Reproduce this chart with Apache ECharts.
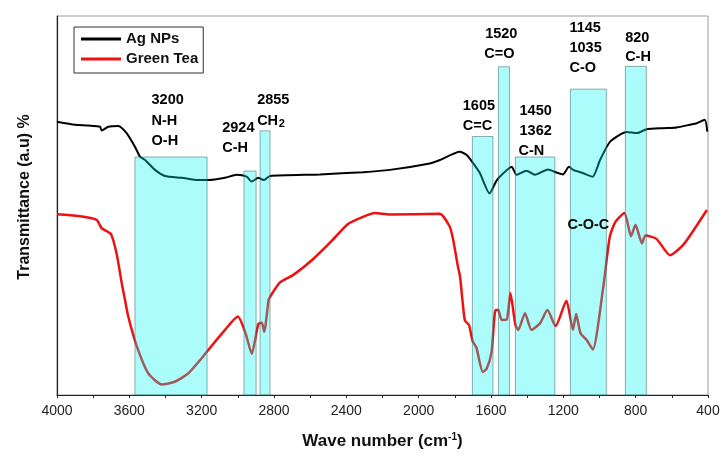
<!DOCTYPE html>
<html>
<head>
<meta charset="utf-8">
<script src="https://cdn.jsdelivr.net/npm/echarts@6/dist/echarts.min.js"></script>
<style>html,body{margin:0;padding:0;background:#fff}#c{width:726px;height:459px}</style>
</head>
<body>
<div id="c"></div>
<script>
// Wave number (cm-1) and transmittance (a.u.)
var agNPs = [
[4000,72.1],[3900,71.3],[3827,71.1],[3762,70.8],[3753,69.8],[3716,70.8],[3661,71.0],[3615,69.1],
[3569,65.5],[3541,62.9],[3513,62.0],[3458,59.4],[3403,57.8],[3310,57.3],[3219,56.7],[3163,56.7],
[3071,57.3],[3006,58.1],[2951,57.6],[2923,56.3],[2887,57.3],[2855,56.7],[2822,57.8],[2546,58.2],
[2308,58.8],[2159,59.4],[1939,61.1],[1882,62.0],[1773,64.2],[1734,63.3],[1698,61.1],[1661,58.5],
[1608,53.2],[1570,56.5],[1532,58.5],[1486,60.2],[1459,58.1],[1404,59.2],[1357,58.1],[1285,59.5],
[1238,58.7],[1202,58.2],[1169,60.2],[1145,59.4],[1090,58.5],[1038,57.6],[997,62.0],[942,66.8],
[850,69.4],[794,69.1],[739,70.1],[649,70.4],[573,70.6],[501,71.3],[462,71.7],[418,72.6],[404,69.5]
];
var greenTea = [
[4000,47.7],[3882,47.2],[3781,46.2],[3753,44.0],[3701,42.4],[3670,37.2],[3642,29.5],[3624,25.1],
[3606,20.7],[3559,12.9],[3495,5.7],[3421,2.8],[3348,3.5],[3274,5.7],[3200,9.7],[3172,11.4],
[3071,17.2],[3000,20.7],[2958,16.4],[2923,10.9],[2887,18.7],[2868,19.1],[2854,16.7],[2830,25.1],
[2822,25.9],[2767,29.7],[2693,31.7],[2583,35.9],[2482,40.6],[2391,45.1],[2308,47.0],[2242,48.0],
[2159,47.6],[1884,47.8],[1828,44.4],[1809,40.9],[1783,33.9],[1771,31.2],[1745,19.7],[1722,18.5],
[1702,14.3],[1680,12.4],[1646,6.1],[1624,6.9],[1597,11.3],[1575,22.4],[1560,22.4],[1541,19.8],
[1513,19.9],[1493,26.9],[1465,18.5],[1449,17.2],[1412,21.6],[1376,17.2],[1329,18.9],[1288,22.4],
[1243,18.2],[1183,24.9],[1147,17.2],[1129,21.4],[1105,16.3],[1071,14.5],[1037,12.0],[980,28.2],
[943,41.8],[912,45.7],[862,48.0],[826,41.9],[801,44.9],[765,40.0],[746,42.1],[685,41.2],
[610,36.9],[537,39.6],[464,44.6],[406,48.8]
];
// Highlighted bands: [from, to, top]
var bands = [
[3569,3170,62.8],[2966,2899,59.1],[2877,2822,69.7],[1703,1589,68.2],
[1559,1498,86.6],[1465,1247,62.8],[1161,962,80.7],[857,741,86.7]
];
// Band annotations: [text, wave number (left edge), level]
var notes = [
['3200',3480,77.9],['N-H',3480,72.4],['O-H',3480,67.1],
['2924',3089,70.4],['C-H',3089,65.3],
['2855',2896,77.9],['CH',2896,72.4],
['1605',1759,76.3],['C=C',1759,71.1],
['1520',1635,95.2],['C=O',1640,89.9],
['1450',1445,74.9],['1362',1445,69.7],['C-N',1451,64.4],
['1145',1169,96.8],['1035',1169,91.5],['C-O',1169,86.2],
['820',861,94.3],['C-H',861,89.1],
['C-O-C',1180,44.9]
];
var subNotes = [['2',2776,71.5]];
var xTicks = {min:400, max:4000, step:400};
var seriesNames = ['Ag NPs','Green Tea'];

var FONT = 'Liberation Sans, Arial, sans-serif';
var chart = echarts.init(document.getElementById('c'), null, {renderer:'canvas'});
var noteData = notes.map(function(n){return {name:n[0], value:[n[1],n[2]]};});
subNotes.forEach(function(n){
  noteData.push({name:n[0], value:[n[1],n[2]], label:{fontSize:11}});
});
chart.setOption({
  animation:false,
  grid:{left:57, right:18, top:16, bottom:64, show:true, borderColor:'#9a9a9a', borderWidth:1},
  legend:{
    left:74, top:27, orient:'vertical', padding:[3,5,5,7], itemGap:2,
    borderColor:'#333', borderWidth:1, itemWidth:40, itemHeight:3,
    icon:'rect',
    textStyle:{fontFamily:FONT, fontWeight:'bold', fontSize:15, color:'#111', lineHeight:18},
    data:seriesNames
  },
  xAxis:{
    type:'value', min:xTicks.min, max:xTicks.max, interval:xTicks.step, inverse:true,
    name:'Wave number (cm{sup|-1})', nameLocation:'middle', nameGap:37,
    nameTextStyle:{fontFamily:FONT, fontWeight:'bold', fontSize:17, color:'#111',
      rich:{sup:{fontFamily:FONT, fontWeight:'bold', fontSize:10, color:'#111', verticalAlign:'top', padding:[0,0,8,0]}}},
    axisLine:{lineStyle:{color:'#222', width:1.2}},
    axisTick:{show:true, length:3, inside:false, lineStyle:{color:'#222'}},
    minorTick:{show:true, splitNumber:2, length:3, lineStyle:{color:'#222'}},
    axisLabel:{fontFamily:FONT, fontSize:14, color:'#222', margin:9, formatter:function(v){return String(v);}},
    splitLine:{show:false}
  },
  yAxis:{
    type:'value', min:0, max:100,
    axisLine:{show:true, lineStyle:{color:'#222', width:1.2}},
    axisTick:{show:false}, axisLabel:{show:false}, splitLine:{show:false}
  },
  graphic:[{
    type:'text', x:25, y:197, rotation:Math.PI/2,
    style:{text:'Transmittance (a.u) %', font:'bold 16px '+FONT, fill:'#111', textAlign:'center', textVerticalAlign:'middle'}
  }],
  series:[
    {name:seriesNames[0], type:'line', data:agNPs, showSymbol:false, symbol:'none', smooth:0.2,
     lineStyle:{color:'#000', width:2}, itemStyle:{color:'#000'}, z:2},
    {name:seriesNames[1], type:'line', data:greenTea, showSymbol:false, symbol:'none', smooth:0.2,
     lineStyle:{color:'#ee1111', width:2.5}, itemStyle:{color:'#ee1111'}, z:2},
    {type:'line', data:[], z:10, silent:true,
     markArea:{silent:true, z:10,
       itemStyle:{color:'rgba(0,245,245,0.32)', borderColor:'rgba(60,110,110,0.55)', borderWidth:1},
       data:bands.map(function(b){return [{coord:[b[0],b[2]]},{coord:[b[1],0]}];})}},
    {type:'scatter', data:noteData, symbolSize:1, z:20, silent:true,
     itemStyle:{color:'rgba(0,0,0,0)', opacity:1},
     label:{show:true, position:'right', distance:0, formatter:function(p){return p.name;}, opacity:1,
       fontFamily:FONT, fontWeight:'bold', fontSize:14.5, color:'#000', verticalAlign:'middle'}}
  ]
});
</script>
</body>
</html>
